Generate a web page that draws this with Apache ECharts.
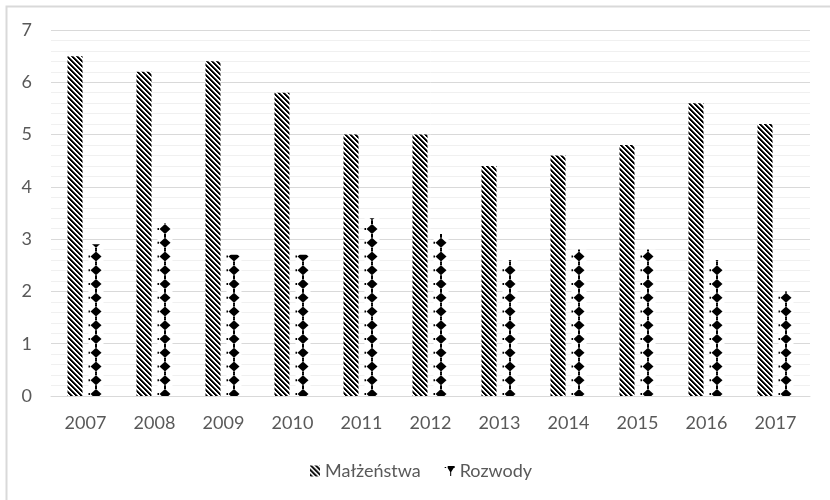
<!DOCTYPE html>
<html>
<head>
<meta charset="utf-8">
<script src="https://cdn.jsdelivr.net/npm/echarts@6/dist/echarts.min.js"></script>
<style>html,body{margin:0;padding:0;background:#fff;}#c{width:830px;height:500px;}</style>
</head>
<body>
<div id="c"></div>
<script>
const categories = ['2007','2008','2009','2010','2011','2012','2013','2014','2015','2016','2017'];
const marriages = [6.5, 6.2, 6.4, 5.8, 5.0, 5.0, 4.4, 4.6, 4.8, 5.6, 5.2];
const divorces = [2.9, 3.3, 2.7, 2.7, 3.4, 3.1, 2.6, 2.8, 2.8, 2.6, 2.0];
const seriesNames = ['Małżeństwa', 'Rozwody'];
const yTicks = [0, 1, 2, 3, 4, 5, 6, 7];

function stripePattern() {
  const s = 5;
  const c = document.createElement('canvas');
  c.width = s; c.height = s;
  const ctx = c.getContext('2d');
  const img = ctx.createImageData(s, s);
  for (let y = 0; y < s; y++) for (let x = 0; x < s; x++) {
    const d = ((x - y) % s + s) % s;
    const v = (d === 0 || d === 1) ? 0 : (d === 2 ? 90 : 255);
    const i = (y * s + x) * 4;
    img.data[i] = v; img.data[i + 1] = v; img.data[i + 2] = v; img.data[i + 3] = 255;
  }
  ctx.putImageData(img, 0, 0);
  return c;
}
function diamondPattern() {
  const w = 69, h = 55, step = 13.75, cx = 27;
  const c = document.createElement('canvas');
  c.width = w; c.height = h;
  const ctx = c.getContext('2d');
  ctx.fillStyle = '#fff'; ctx.fillRect(0, 0, w, h);
  ctx.fillStyle = '#000';
  const ys = [];
  for (let k = -1; k <= 5; k++) ys.push(9 + k * step);
  for (const y of ys) {
    ctx.beginPath();
    ctx.moveTo(cx, y - 5); ctx.lineTo(cx + 5.5, y); ctx.lineTo(cx, y + 5); ctx.lineTo(cx - 5.5, y);
    ctx.closePath(); ctx.fill();
    ctx.fillRect(cx - 8, y - 1, 2, 2);
    ctx.fillRect(cx - 1, y + 5, 2, 2);
    ctx.fillRect(cx - 1, y - 7, 2, 2);
  }
  return c;
}

const chart = echarts.init(document.getElementById('c'), null, {renderer: 'canvas'});
const font = 'Lato, "Open Sans", sans-serif';
chart.setOption({
  animation: false,
  backgroundColor: '#fff',
  textStyle: {fontFamily: font},
  graphic: [{
    type: 'rect', left: 4, top: 4, silent: true, z: -10,
    shape: {width: 840, height: 510},
    style: {fill: 'none', stroke: '#d9d9d9', lineWidth: 2}
  }],
  grid: {left: 51, right: 20, top: 30, bottom: 104, containLabel: false},
  legend: {
    left: 305, top: 457, itemWidth: 10, itemHeight: 11, itemGap: 24,
    textStyle: {color: '#595959', fontSize: 18, fontFamily: font},
    data: [
      {name: seriesNames[0], icon: 'rect'},
      {name: seriesNames[1], icon: 'path://M0,1h1.5v1h-1.5z M3,0h7v2h-1l-2.5,4v4h-1v-4l-2.5,-4h-0z', itemStyle: {color: '#000'}}
    ]
  },
  xAxis: {
    type: 'category', data: categories,
    axisLine: {show: true, lineStyle: {color: '#d9d9d9', width: 1}},
    axisTick: {show: false},
    axisLabel: {color: '#595959', fontSize: 18, margin: 18, fontFamily: font}
  },
  yAxis: {
    type: 'value', min: yTicks[0], max: yTicks[yTicks.length - 1], interval: 1,
    axisLine: {show: false}, axisTick: {show: false},
    axisLabel: {color: '#595959', fontSize: 18, margin: 19, fontFamily: font},
    splitLine: {show: true, lineStyle: {color: '#d9d9d9', width: 1}},
    minorTick: {show: false, splitNumber: 5},
    minorSplitLine: {show: true, lineStyle: {color: '#f0f0f0', width: 1}}
  },
  series: [
    {name: seriesNames[0], type: 'bar', data: marriages, barWidth: 15, barGap: '40%',
     itemStyle: {color: {image: stripePattern(), repeat: 'repeat'}}},
    {name: seriesNames[1], type: 'bar', data: divorces, barWidth: 15,
     itemStyle: {color: {image: diamondPattern(), repeat: 'repeat'}}}
  ]
});
</script>
</body>
</html>
